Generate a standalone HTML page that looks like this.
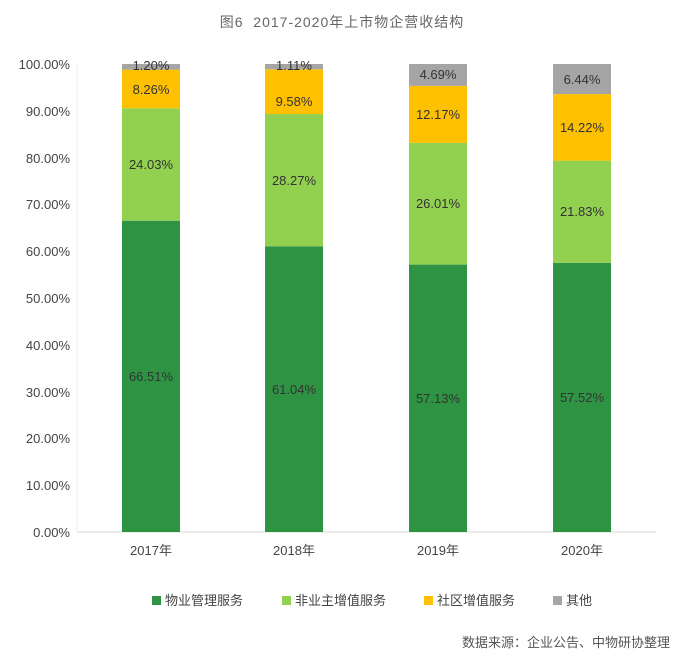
<!DOCTYPE html><html><head><meta charset="utf-8"><style>body{margin:0;background:#fff}</style></head><body>
<svg width="684" height="665" xmlns="http://www.w3.org/2000/svg" font-family="Liberation Sans, Noto Sans CJK SC, sans-serif">
<rect width="684" height="665" fill="#fff"/>
<text x="342" y="27" text-anchor="middle" font-size="14" fill="#666" letter-spacing="1" xml:space="preserve">图6  2017-2020年上市物企营收结构</text>
<g font-size="13" fill="#444" text-anchor="end">
<text x="70" y="69">100.00%</text><text x="70" y="116">90.00%</text><text x="70" y="163">80.00%</text><text x="70" y="209">70.00%</text><text x="70" y="256">60.00%</text><text x="70" y="303">50.00%</text><text x="70" y="350">40.00%</text><text x="70" y="397">30.00%</text><text x="70" y="443">20.00%</text><text x="70" y="490">10.00%</text><text x="70" y="537">0.00%</text>
</g>
<line x1="77" y1="532" x2="656" y2="532" stroke="#d9d9d9"/>
<line x1="77" y1="64" x2="77" y2="532" stroke="#eee"/>
<g>
<rect x="122" y="220.7" width="58" height="311.3" fill="#2e9444"/><rect x="122" y="108.3" width="58" height="112.4" fill="#92d050"/><rect x="122" y="69.6" width="58" height="38.7" fill="#ffc000"/><rect x="122" y="64" width="58" height="5.6" fill="#a5a5a5"/>
<rect x="265" y="246.3" width="58" height="285.7" fill="#2e9444"/><rect x="265" y="114" width="58" height="132.3" fill="#92d050"/><rect x="265" y="69.2" width="58" height="44.8" fill="#ffc000"/><rect x="265" y="64" width="58" height="5.2" fill="#a5a5a5"/>
<rect x="409" y="264.6" width="58" height="267.4" fill="#2e9444"/><rect x="409" y="142.9" width="58" height="121.7" fill="#92d050"/><rect x="409" y="85.9" width="58" height="57" fill="#ffc000"/><rect x="409" y="64" width="58" height="21.9" fill="#a5a5a5"/>
<rect x="553" y="262.8" width="58" height="269.2" fill="#2e9444"/><rect x="553" y="160.6" width="58" height="102.2" fill="#92d050"/><rect x="553" y="94.1" width="58" height="66.5" fill="#ffc000"/><rect x="553" y="64" width="58" height="30.1" fill="#a5a5a5"/>
</g>
<g font-size="13" fill="#333" text-anchor="middle">
<text x="151" y="381">66.51%</text><text x="151" y="169">24.03%</text><text x="151" y="94">8.26%</text><text x="151" y="70">1.20%</text>
<text x="294" y="394">61.04%</text><text x="294" y="185">28.27%</text><text x="294" y="106">9.58%</text><text x="294" y="70">1.11%</text>
<text x="438" y="403">57.13%</text><text x="438" y="208">26.01%</text><text x="438" y="119">12.17%</text><text x="438" y="79">4.69%</text>
<text x="582" y="402">57.52%</text><text x="582" y="216">21.83%</text><text x="582" y="132">14.22%</text><text x="582" y="84">6.44%</text>
</g>
<g font-size="13" fill="#444" text-anchor="middle">
<text x="151" y="555">2017年</text><text x="294" y="555">2018年</text><text x="438" y="555">2019年</text><text x="582" y="555">2020年</text>
</g>
<g font-size="13" fill="#444">
<rect x="152" y="596" width="9" height="9" fill="#2e9444"/><text x="165" y="605">物业管理服务</text>
<rect x="282" y="596" width="9" height="9" fill="#92d050"/><text x="295" y="605">非业主增值服务</text>
<rect x="424" y="596" width="9" height="9" fill="#ffc000"/><text x="437" y="605">社区增值服务</text>
<rect x="553" y="596" width="9" height="9" fill="#a5a5a5"/><text x="566" y="605">其他</text>
</g>
<text x="670" y="647" text-anchor="end" font-size="13" fill="#555">数据来源：企业公告、中物研协整理</text>
</svg></body></html>
